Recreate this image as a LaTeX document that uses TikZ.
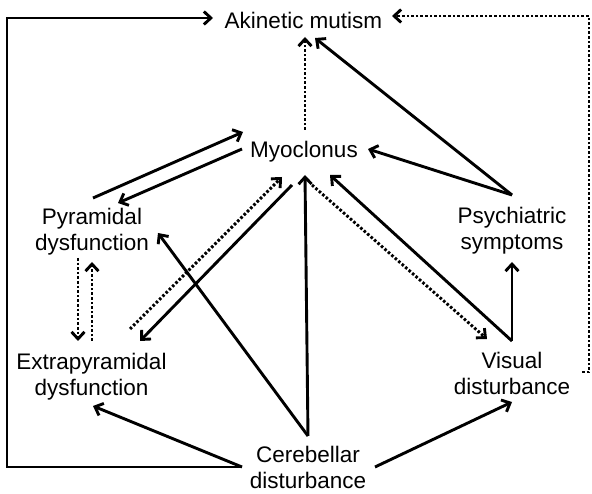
\documentclass[tikz,border=0pt]{standalone}
\usepackage{fontspec}
\setmainfont{Liberation Sans}
\usetikzlibrary{arrows.meta}

\begin{document}
\begin{tikzpicture}[
                x=1pt, y=-1pt,
                line width=2.9pt,
                >={Straight Barb[length=7pt,width=13pt]},
                dotline/.style={dash pattern=on 2.6pt off 2pt},
                every node/.append style={inner sep=0pt,anchor=north,align=center,
                    font=\fontsize{22.5}{26.5}\selectfont}
            ]
                \useasboundingbox (0,0) rectangle (592,494);
                \node (akm) at (303.5,10.5)  {Akinetic mutism};
                \node (myo) at (304,139.5)   {Myoclonus};
                \node (pyr) at (92,206.5)    {Pyramidal\\dysfunction};
                \node (psy) at (512,205.5)   {Psychiatric\\symptoms};
                \node (ext) at (91.5,351.5)  {Extrapyramidal\\dysfunction};
                \node (vis) at (512,350.5)   {Visual\\disturbance};
                \node (cer) at (308,444.5)   {Cerebellar\\disturbance};
                \coordinate (lft) at (7,0);
                \coordinate (rgt) at (589,0);
                \coordinate (cerL) at ([shift={(-66,22.5)}]cer.north);
                \coordinate (visR) at ([shift={(70,21.5)}]vis.north);
                % outer loops
                \draw[->] (cerL) -- (cerL -| lft) |- ([shift={(-90.5,7.5)}]akm.north);
                \draw[->,dotline] (visR) -- (visR -| rgt) |- ([shift={(88.5,5.5)}]akm.north);
                % from cerebellar
                \draw[->] (cerL) -- ([shift={(1.5,54.5)}]ext.north);
                \draw[->] ([shift={(67,22.5)}]cer.north) -- ([shift={(0,51.5)}]vis.north);
                \draw[->] ([shift={(0,-8.5)}]cer.north) -- ([shift={(1,35.5)}]myo.north);
                \draw[->] ([shift={(0,-8.5)}]cer.north) -- ([shift={(66,26.5)}]pyr.north);
                % left side
                \draw[->] ([shift={(-12,45.5)}]myo.north) -- ([shift={(48.5,-10.5)}]ext.north);
                \draw[->,dotline] ([shift={(38.5,-22.5)}]ext.north) -- ([shift={(-22,37.5)}]myo.north);
                \draw[->] ([shift={(1,-8.5)}]pyr.north) -- ([shift={(-61,-7.5)}]myo.north);
                \draw[->] ([shift={(-62,9.5)}]myo.north) -- ([shift={(26,-3.5)}]pyr.north);
                \draw[->,dotline] ([shift={(-14,51.5)}]pyr.north) -- ([shift={(-13.5,-10.5)}]ext.north);
                \draw[->,dotline] ([shift={(0.5,-10.5)}]ext.north) -- ([shift={(0,55.5)}]pyr.north);
                % right side
                \draw[->,dotline] ([shift={(8,45.5)}]myo.north) -- ([shift={(-25,-11.5)}]vis.north);
                \draw[->] ([shift={(0,-9.5)}]vis.north) -- ([shift={(26,35.5)}]myo.north);
                \draw[->] ([shift={(0,-9.5)}]vis.north) -- ([shift={(0,56.5)}]psy.north);
                \draw[->] ([shift={(0,-10.5)}]psy.north) -- ([shift={(64,9.5)}]myo.north);
                \draw[->] ([shift={(0,-10.5)}]psy.north) -- ([shift={(11.5,27.5)}]akm.north);
                \draw[->,dotline] ([shift={(1,-9.5)}]myo.north) -- ([shift={(1.5,26.5)}]akm.north);
            \end{tikzpicture}
\end{document}
